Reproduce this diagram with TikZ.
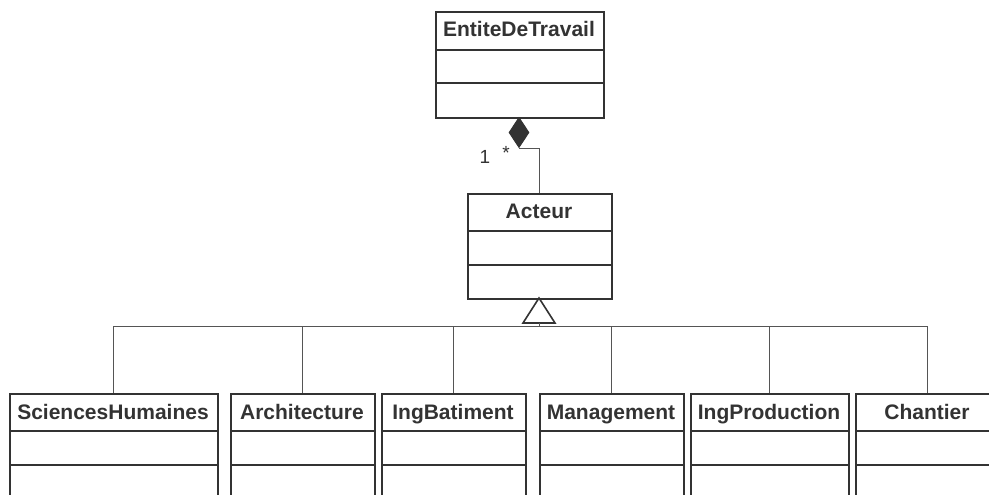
\documentclass[tikz,border=0pt]{standalone}
\usepackage{fontspec}
\setmainfont{Liberation Sans}
\usetikzlibrary{shapes.geometric}
\definecolor{ink}{HTML}{333333}
\definecolor{wire}{HTML}{555555}
\tikzset{
  clsbox/.style={draw=ink, line width=1.6pt, rectangle, inner sep=0pt, anchor=north west},
  clstitle/.style={text=ink, font=\fontsize{21}{23}\selectfont\bfseries, inner sep=0pt, anchor=base},
  divline/.style={draw=ink, line width=1.6pt},
  conn/.style={draw=wire, line width=1pt},
  mult/.style={text=ink, font=\fontsize{19}{21}\selectfont, inner sep=0pt, anchor=base}
}
\begin{document}
\begin{tikzpicture}[x=1pt,y=-1pt]
\useasboundingbox (0,0) rectangle (989,495);
\clip (0,0) rectangle (989,495);
\fill[white] (0,0) rectangle (989,495);

% EntiteDeTravail
\node[clsbox, minimum width=168pt, minimum height=106pt] (ent) at (435,11) {};
\node[clstitle] (entT) at (519,37) {EntiteDeTravail};
\draw[divline] (435,50) -- (603,50);
\draw[divline] (435,83) -- (603,83);

% Acteur
\node[clsbox, minimum width=144pt, minimum height=105pt] (act) at (467,193) {};
\node[clstitle] (actT) at (539,218) {Acteur};
\draw[divline] (467,231) -- (611,231);
\draw[divline] (467,265) -- (611,265);

% composition
\node[draw=ink, fill=ink, line width=1pt, diamond, inner sep=0pt, minimum width=20pt, minimum height=30pt, anchor=north] (dia) at (519,117) {};
\draw[conn] (dia.south) -| (act.north);
\node[mult] (m1) at (485,163) {1};
\node[mult] (m2) at (506,159) {*};

% generalization triangle
\draw[draw=ink, line width=1.6pt, fill=white] (539,298) -- (555,323) -- (523,323) -- cycle;
\coordinate (tri) at (539,323);
\coordinate (bus) at (539,326);
\draw[conn] (tri) -- (bus);

% subclasses
\newcommand\subcls[4]{%
  \pgfmathsetmacro\boxw{#3-#2}%
  \node[clsbox, minimum width=\boxw pt, minimum height=140pt] (#1) at (#2,393) {};
  \node[clstitle] (#1T) at ({(#2+#3)/2},419.5) {#4};
  \draw[divline] (#2,431) -- (#3,431);
  \draw[divline] (#2,465) -- (#3,465);
  \draw[conn] (bus) -| (#1.north);
}
\subcls{sh}{9}{217}{SciencesHumaines}
\subcls{arch}{230}{374}{Architecture}
\subcls{ingb}{381}{525}{IngBatiment}
\subcls{mgmt}{539}{683}{Management}
\subcls{ingp}{690}{848}{IngProduction}
\subcls{chan}{855}{999}{Chantier}
\end{tikzpicture}
\end{document}
